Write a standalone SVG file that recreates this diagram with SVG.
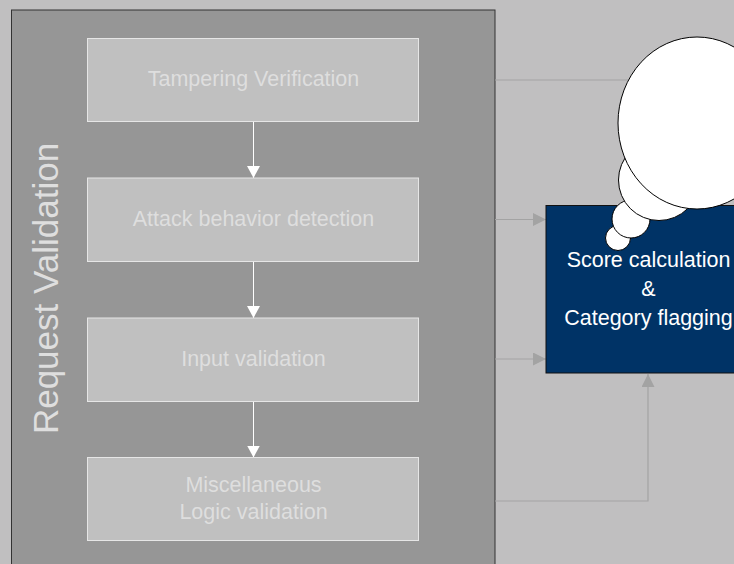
<svg xmlns="http://www.w3.org/2000/svg" width="734" height="564" viewBox="0 0 734 564">
<defs>
<style>
.box{fill:#c0c0c0;stroke:#e6e6e6;stroke-width:1}
.lbl{font-family:"Liberation Sans",Arial,sans-serif;font-size:21.5px;fill:#dedede;text-anchor:middle}
.wl{stroke:#ffffff;stroke-width:1;fill:none}
.gl{stroke:#a3a3a3;stroke-width:1.2;fill:none}
.bub{fill:#ffffff;stroke:#000000;stroke-width:1}
</style>
<marker id="aw" viewBox="0 0 12 13" markerWidth="12" markerHeight="13" refX="12" refY="6.5" orient="auto" markerUnits="userSpaceOnUse">
<path d="M0,0 L12,6.5 L0,13 Z" fill="#ffffff"/>
</marker>
<marker id="ag" viewBox="0 0 13 13" markerWidth="13" markerHeight="13" refX="13" refY="6.5" orient="auto" markerUnits="userSpaceOnUse">
<path d="M0,0 L13,6.5 L0,13 Z" fill="#a3a3a3"/>
</marker>
</defs>
<rect x="0" y="0" width="734" height="564" fill="#c0bfc0"/>
<g id="request-validation">
<rect x="11.5" y="10" width="483.5" height="570" fill="#969696" stroke="#333333" stroke-width="1"/>
<text transform="translate(58,288.5) rotate(-90)" font-family="'Liberation Sans',Arial,sans-serif" font-size="35" fill="#dedede" text-anchor="middle">Request Validation</text>
</g>
<g id="connectors">
<path class="wl" d="M253.5,121.5 V178" marker-end="url(#aw)"/>
<path class="wl" d="M253.5,261.5 V318" marker-end="url(#aw)"/>
<path class="wl" d="M253.5,401.5 V457.5" marker-end="url(#aw)"/>
<path class="gl" d="M495,80 H660"/>
<path class="gl" d="M495,219.5 H546" marker-end="url(#ag)"/>
<path class="gl" d="M495,359 H546" marker-end="url(#ag)"/>
<path class="gl" d="M495,501 H648 V374" marker-end="url(#ag)"/>
</g>
<g id="tampering">
<rect class="box" x="87.5" y="38.5" width="331" height="83"/>
<text class="lbl" x="253.5" y="86">Tampering Verification</text>
</g>
<g id="attack">
<rect class="box" x="87.5" y="178" width="331" height="83.5"/>
<text class="lbl" x="253.5" y="226">Attack behavior detection</text>
</g>
<g id="input">
<rect class="box" x="87.5" y="318" width="331" height="83.5"/>
<text class="lbl" x="253.5" y="366">Input validation</text>
</g>
<g id="misc">
<rect class="box" x="87.5" y="457.5" width="331" height="83"/>
<text class="lbl" x="253.5" y="492">Miscellaneous</text>
<text class="lbl" x="253.5" y="519">Logic validation</text>
</g>
<g id="score">
<rect x="546" y="205.5" width="200" height="167.5" fill="#003366" stroke="#111111" stroke-width="1"/>
<text class="lbl" x="648.5" y="267" fill="#ffffff" style="fill:#ffffff">Score calculation</text>
<text class="lbl" x="648.5" y="296" style="fill:#ffffff">&amp;</text>
<text class="lbl" x="648.5" y="324.5" style="fill:#ffffff">Category flagging</text>
</g>
<g id="thought-bubble">
<circle class="bub" cx="618" cy="238" r="12.5"/>
<circle class="bub" cx="631" cy="219" r="19"/>
<circle class="bub" cx="659" cy="180" r="40.5"/>
<ellipse class="bub" cx="697" cy="123" rx="79" ry="86"/>
</g>
</svg>
